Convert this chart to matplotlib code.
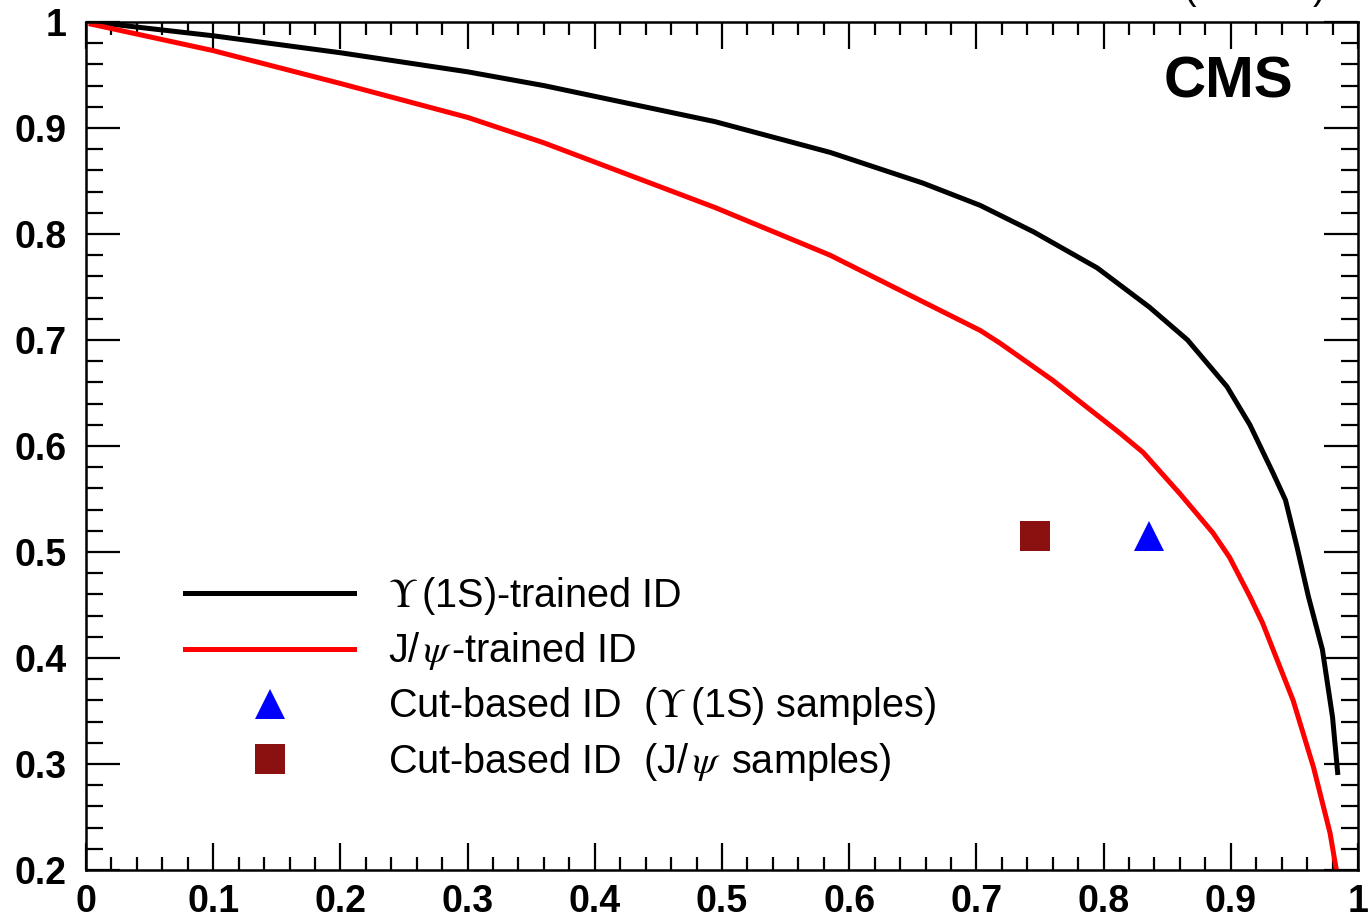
import numpy as np
import matplotlib
matplotlib.use('Agg')
import matplotlib.pyplot as plt
from matplotlib.ticker import MultipleLocator, FuncFormatter

plt.rcParams['font.family'] = ['Liberation Sans', 'DejaVu Sans']
plt.rcParams['mathtext.fontset'] = 'stix'

# curves
ups_x = [0.005, 0.1, 0.2, 0.3, 0.36, 0.4945, 0.585, 0.658, 0.703, 0.745, 0.795,
         0.836, 0.866, 0.897, 0.915, 0.933, 0.943, 0.952, 0.961, 0.972,
         0.980, 0.984]
ups_y = [1.0, 0.987, 0.971, 0.953, 0.940, 0.906, 0.877, 0.848, 0.827, 0.802, 0.768,
         0.731, 0.700, 0.656, 0.620, 0.575, 0.549, 0.505, 0.458, 0.408,
         0.344, 0.292]

jpsi_x = [0.004, 0.1, 0.2, 0.3, 0.36, 0.4945, 0.585, 0.703, 0.7186, 0.760, 0.813,
          0.831, 0.860, 0.886, 0.899, 0.915, 0.925, 0.949, 0.965, 0.978, 0.983, 0.985]
jpsi_y = [0.998, 0.973, 0.942, 0.910, 0.886, 0.825, 0.780, 0.709, 0.697, 0.662, 0.612,
          0.594, 0.555, 0.518, 0.495, 0.458, 0.433, 0.360, 0.297, 0.235, 0.200, 0.18]

cut_ups = (0.836, 0.515)
cut_jpsi = (0.746, 0.515)

labels = [r'$\Upsilon\,$(1S)-trained ID', r'J/$\,\psi\,$-trained ID',
          r'Cut-based ID  ($\Upsilon\,$(1S) samples)',
          r'Cut-based ID  (J/$\,\psi\,$ samples)']

fig = plt.figure(figsize=(13.68, 9.22), dpi=100)
ax = fig.add_axes([86/1368, 1 - 870/922, 1272/1368, 848/922])

ax.plot(ups_x, ups_y, color='black', lw=3.6, label=labels[0])
ax.plot(jpsi_x, jpsi_y, color='#ff0000', lw=3.6, label=labels[1])
ax.plot([cut_ups[0]], [cut_ups[1]], linestyle='none', marker='^', ms=21.5,
        mew=0, color='#0000ff', label=labels[2])
ax.plot([cut_jpsi[0]], [cut_jpsi[1]], linestyle='none', marker='s', ms=22,
        mew=0, color='#8b1111', label=labels[3])

ax.set_xlim(0, 1)
ax.set_ylim(0.2, 1)
ax.xaxis.set_major_locator(MultipleLocator(0.1))
ax.xaxis.set_minor_locator(MultipleLocator(0.02))
ax.yaxis.set_major_locator(MultipleLocator(0.1))
ax.yaxis.set_minor_locator(MultipleLocator(0.02))
fmt = FuncFormatter(lambda v, p: ('%g' % round(v, 2)))
ax.xaxis.set_major_formatter(fmt)
ax.yaxis.set_major_formatter(fmt)

ax.tick_params(which='both', direction='in', top=True, right=True, width=1.6)
ax.tick_params(axis='x', which='major', length=19.5, pad=10)
ax.tick_params(axis='x', which='minor', length=9.5)
ax.tick_params(axis='y', which='major', length=24.5, pad=14)
ax.tick_params(axis='y', which='minor', length=12)
for lab in ax.get_xticklabels() + ax.get_yticklabels():
    lab.set_fontsize(27)
    lab.set_fontweight('bold')
for sp in ax.spines.values():
    sp.set_linewidth(1.8)

leg = ax.legend(loc='upper left', bbox_to_anchor=(0.078, 0.3475), frameon=False,
                fontsize=28.5, handlelength=4.27, handletextpad=0.86,
                labelspacing=0.33, borderpad=0, borderaxespad=0)

fig.text(1293/1368, 1 - 82/922, 'CMS', ha='right', va='center',
         fontsize=42, fontweight='bold')
fig.text(1325/1368, 1 + 1/922, '(13 TeV)', ha='right', va='baseline', fontsize=27)

fig.savefig('out.png', dpi=100)
